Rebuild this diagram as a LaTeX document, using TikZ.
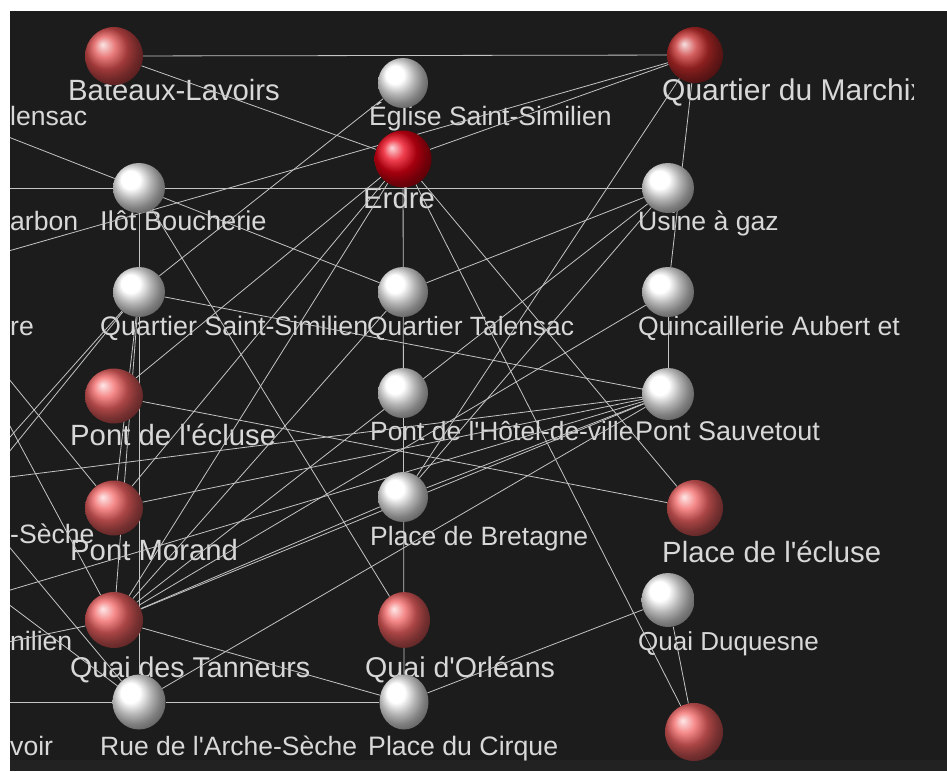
\documentclass[tikz,border=0pt]{standalone}
\usepackage{fontspec}
\setmainfont{Liberation Sans}
\usetikzlibrary{shapes.geometric}
\pgfdeclarelayer{bg}
\pgfdeclarelayer{lbl}
\pgfdeclarelayer{edges}
\pgfsetlayers{bg,lbl,edges,main}
\definecolor{bgc}{HTML}{1C1C1C}
\definecolor{bandc}{HTML}{222222}
\definecolor{edgec}{HTML}{C4C4C4}
\definecolor{lblc}{HTML}{D8D8D8}
\definecolor{redA}{RGB}{242,98,98}
\definecolor{redB}{RGB}{225,80,80}
\definecolor{redE}{RGB}{235,0,20}
\definecolor{redM}{RGB}{200,45,45}
\newcommand{\apq}{\textquotesingle}
\tikzset{
  ball/.style={ellipse, inner sep=0pt, draw=none, shading=ball},
  wball/.style={ball, ball color=white},
  rball/.style={ball, ball color=redA},
  lbl/.style={anchor=base west, inner sep=0pt, text=lblc, font=\fontsize{#1}{#1}\selectfont},
  lbla/.style={lbl=29.3},
  lblb/.style={lbl=26.6},
  edge/.style={draw=edgec, line width=0.8pt}
}
\begin{document}
\begin{tikzpicture}[x=1pt,y=-1pt]
\useasboundingbox (0,0) rectangle (947,771);
\begin{pgfonlayer}{bg}
  \fill[white] (0,0) rectangle (947,771);
  \fill[bgc] (10,11) rectangle (947,760);
  \fill[bandc] (10,760) rectangle (947,771);
\end{pgfonlayer}

% spheres
\begin{scope}
\clip (10,11) rectangle (947,760);
\node[rball, ball color=redB, minimum width=58pt, minimum height=58pt] (BL) at (114,56) {};
\node[wball, minimum width=50pt, minimum height=50pt] (EGL) at (403,83) {};
\node[ball, ball color=redM, minimum width=56pt, minimum height=56pt] (QM) at (695,55) {};
\node[ball, ball color=redE, minimum width=57pt, minimum height=57pt] (ERD) at (403,159) {};
\node[wball, minimum width=52pt, minimum height=50pt] (ILOT) at (139,188) {};
\node[wball, minimum width=52pt, minimum height=50pt] (USI) at (668,188) {};
\node[wball, minimum width=52pt, minimum height=50pt] (QSS) at (139,292) {};
\node[wball, minimum width=50pt, minimum height=50pt] (TAL) at (403,292) {};
\node[wball, minimum width=52pt, minimum height=50pt] (QUI) at (668,292) {};
\node[rball, minimum width=58pt, minimum height=55pt] (PEC) at (114,396) {};
\node[wball, minimum width=50pt, minimum height=50pt] (PHV) at (403,393) {};
\node[wball, minimum width=52pt, minimum height=52pt] (PSV) at (668,394) {};
\node[rball, minimum width=58pt, minimum height=55pt] (PMO) at (114,508) {};
\node[wball, minimum width=50pt, minimum height=50pt] (PDB) at (403,497) {};
\node[rball, minimum width=56pt, minimum height=56pt] (PLE) at (695,508) {};
\node[wball, minimum width=53pt, minimum height=54pt] (QDU) at (668,600) {};
\node[rball, minimum width=58pt, minimum height=56pt] (QDT) at (114,620) {};
\node[rball, minimum width=52pt, minimum height=56pt] (QDO) at (404,620) {};
\node[wball, minimum width=53pt, minimum height=55pt] (RAS) at (139,702) {};
\node[wball, minimum width=49pt, minimum height=55pt] (PDC) at (404,702) {};
\node[rball, minimum width=58pt, minimum height=58pt] (URED) at (694,732) {};
\end{scope}

% off-frame ends
\coordinate (LA) at (-30,122);
\coordinate (LB) at (-30,188);
\coordinate (LC) at (-30,262);
\coordinate (LR) at (-62,292);
\coordinate (LD) at (-30,482);
\coordinate (LSE) at (-30,500);
\coordinate (LG) at (-60,553);
\coordinate (LN) at (-40,605);
\coordinate (LE) at (-30,650);
\coordinate (LF) at (-30,702);

% labels
\begin{pgfonlayer}{lbl}
\begin{scope}
\clip (10,11) rectangle (913,760);
\node[lbla] (tBL) at (68,100) {Bateaux-Lavoirs};
\node[lblb] (tLA) at (10,125) {lensac};
\node[lblb] (tEGL) at (369,125) {Église Saint-Similien};
\node[lbl=30] (tQM) at (662,100) {Quartier du Marchix};
\node[lbla] (tERD) at (363,208) {Erdre};
\node[lblb] (tLB) at (10,230) {arbon};
\node[lbl=27.2] (tILOT) at (100,230) {Ilôt Boucherie};
\node[lblb] (tUSI) at (638,230) {Usine à gaz};
\node[lblb] (tLR) at (10,335) {re};
\node[lbl=26.8] (tQSS) at (100,335) {Quartier Saint-Similien};
\node[lbl=26.4] (tTAL) at (367,335) {Quartier Talensac};
\node[lblb] (tQUI) at (638,335) {Quincaillerie Aubert et};
\node[lbla] (tPEC) at (70,445) {Pont de l\apq écluse};
\node[lbl=26.4] (tPHV) at (370,440) {Pont de l\apq Hôtel-de-ville};
\node[lbl=27] (tPSV) at (635,440) {Pont Sauvetout};
\node[lblb] (tLSE) at (10,543) {-Sèche};
\node[lbla] (tPMO) at (70,560) {Pont Morand};
\node[lbl=26.5] (tPDB) at (370,545) {Place de Bretagne};
\node[lbla] (tPLE) at (662,562) {Place de l\apq écluse};
\node[lblb] (tLN) at (10,650) {nilien};
\node[lbl=26] (tQDU) at (638,650) {Quai Duquesne};
\node[lbl=28.6] (tQDT) at (70,677) {Quai des Tanneurs};
\node[lbl=28.6] (tQDO) at (365,677) {Quai d\apq Orléans};
\node[lblb] (tLF) at (10,755) {voir};
\node[lbl=26.5] (tRAS) at (100,755) {Rue de l\apq Arche-Sèche};
\node[lbl=26.7] (tPDC) at (368,755) {Place du Cirque};
\end{scope}
\end{pgfonlayer}

% connectors
\begin{pgfonlayer}{edges}
\begin{scope}
\clip (10,11) rectangle (947,760);
\path[edge] (BL) -- (QM);
\path[edge] (BL) -- (ERD);
\path[edge] (LC) -- (QM);
\path[edge] (ERD) -- (QM);
\path[edge] (LB) -- (ILOT);
\path[edge] (ILOT) -- (USI);
\path[edge] (LA) -- (ILOT);
\path[edge] (ILOT) -- (TAL);
\path[edge] (ILOT) -- (RAS);
\path[edge] (QSS) -- (EGL);
\path[edge] (QSS) -- (QDT);
\path[edge] (QSS) -- (PMO);
\path[edge] (ILOT) -- (QDO);
\path[edge] (TAL) -- (USI);
\path[edge] (USI) -- (PDB);
\path[edge] (QM) -- (PDB);
\path[edge] (QM) -- (QUI);
\path[edge] (QUI) -- (PSV);
\path[edge] (ERD) -- (PDC);
\path[edge] (ERD) -- (PLE);
\path[edge] (ERD) -- (URED);
\path[edge] (ERD) -- (PEC);
\path[edge] (ERD) -- (PMO);
\path[edge] (ERD) -- (QDT);
\path[edge] (QDT) -- (USI);
\path[edge] (QDT) -- (QUI);
\path[edge] (QDT) -- (PSV);
\path[edge] (QDT) -- (PDB);
\path[edge] (QDT) -- (TAL);
\path[edge] (QDT) -- (PDC);
\path[edge] (PDC) -- (QDU);
\path[edge] (QDU) -- (URED);
\path[edge] (RAS) -- (PSV);
\path[edge] (PEC) -- (PLE);
\path[edge] (QSS) -- (PSV);
\path[edge] (PMO) -- (PSV);
\path[edge] (PDB) -- (PSV);
\path[edge] (LD) -- (PSV);
\path[edge] (LN) -- (PSV);
\path[edge] (LE) -- (QDT);
\path[edge] (LF) -- (RAS);
\path[edge] (RAS) -- (PDC);
\path[edge] (LR) -- (PMO);
\path[edge] (LR) -- (QDT);
\path[edge] (LSE) -- (RAS);
\path[edge] (LG) -- (RAS);
\path[edge] (QSS) -- (LSE);
\path[edge] (QSS) -- (LD);
\end{scope}
\end{pgfonlayer}
\end{tikzpicture}
\end{document}
